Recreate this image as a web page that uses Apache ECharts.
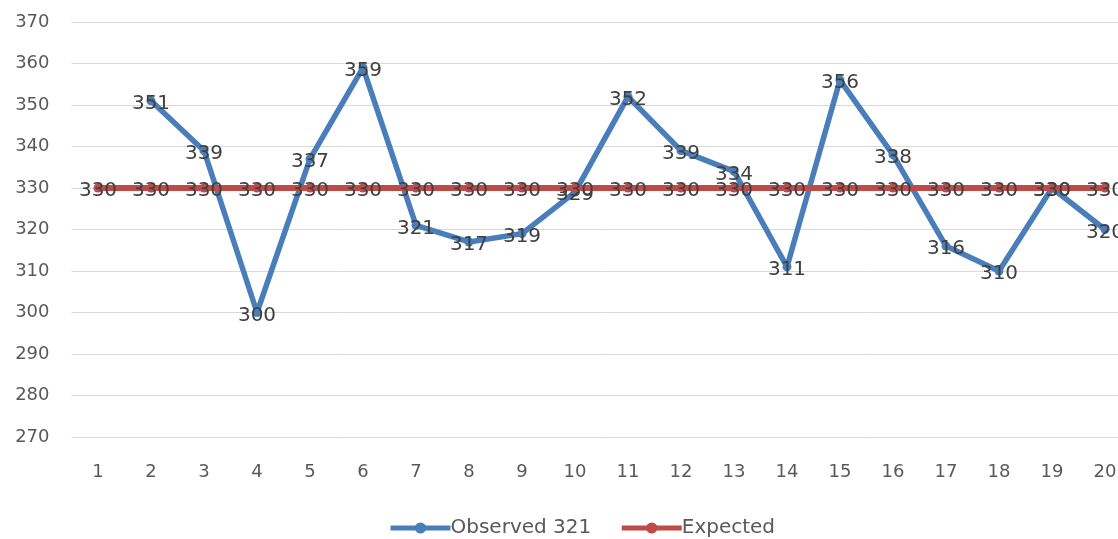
<!DOCTYPE html>
<html>
<head>
<meta charset="utf-8">
<script src="https://cdn.jsdelivr.net/npm/echarts@6/dist/echarts.min.js"></script>
<style>
  html, body { margin: 0; padding: 0; background: #fff; overflow: hidden; width: 1118px; height: 539px; }
  /* the plot runs a little past the right edge of the page */
  #chart { width: 1132px; height: 539px; }
</style>
</head>
<body>
<div id="chart"></div>
<script>
// Sample index along the x axis
const categories = ['1','2','3','4','5','6','7','8','9','10','11','12','13','14','15','16','17','18','19','20'];
// Observed counts (first sample has no observation)
const observed = [null, 351, 339, 300, 337, 359, 321, 317, 319, 329, 352, 339, 334, 311, 356, 338, 316, 310, 330, 320];
// Expected count for every sample
const expected = [330, 330, 330, 330, 330, 330, 330, 330, 330, 330, 330, 330, 330, 330, 330, 330, 330, 330, 330, 330];
// Y axis range
const yMin = 270, yMax = 370, yStep = 10;

const FONT = '"DejaVu Sans", sans-serif';
const labelStyle = {
  show: true,
  position: 'inside',
  offset: [0, 3],
  color: '#404040',
  fontSize: 20,
  fontFamily: FONT
};

const chart = echarts.init(document.getElementById('chart'), null, { renderer: 'canvas' });
chart.setOption({
  animation: false,
  backgroundColor: '#ffffff',
  grid: { left: 71.5, right: 0.5, top: 22, bottom: 102, containLabel: false },
  xAxis: {
    type: 'category',
    data: categories,
    boundaryGap: true,
    axisLine: { show: false },
    axisTick: { show: false },
    axisLabel: { color: '#595959', fontSize: 18, fontFamily: FONT, margin: 26 }
  },
  yAxis: {
    type: 'value',
    min: yMin, max: yMax, interval: yStep,
    axisLine: { show: false },
    axisTick: { show: false },
    splitLine: { lineStyle: { color: '#d9d9d9', width: 1 } },
    axisLabel: { color: '#595959', fontSize: 18, fontFamily: FONT, margin: 22 }
  },
  legend: {
    top: 513,
    left: 383,
    itemWidth: 60,
    itemHeight: 14,
    itemGap: 28,
    lineStyle: { width: 5 },
    textStyle: { color: '#595959', fontSize: 20, fontFamily: FONT, padding: [0, 0, 0, -5] },
    data: ['Observed 321', 'Expected']
  },
  series: [
    {
      name: 'Observed 321',
      type: 'line',
      data: observed,
      connectNulls: false,
      symbol: 'circle',
      symbolSize: 9,
      itemStyle: { color: '#4a7ebb' },
      lineStyle: { color: '#4a7ebb', width: 5.5 },
      label: labelStyle,
      z: 2
    },
    {
      name: 'Expected',
      type: 'line',
      data: expected,
      symbol: 'circle',
      symbolSize: 9,
      itemStyle: { color: '#be4b48' },
      lineStyle: { color: '#be4b48', width: 6 },
      label: labelStyle,
      z: 3
    }
  ]
});
</script>
</body>
</html>
